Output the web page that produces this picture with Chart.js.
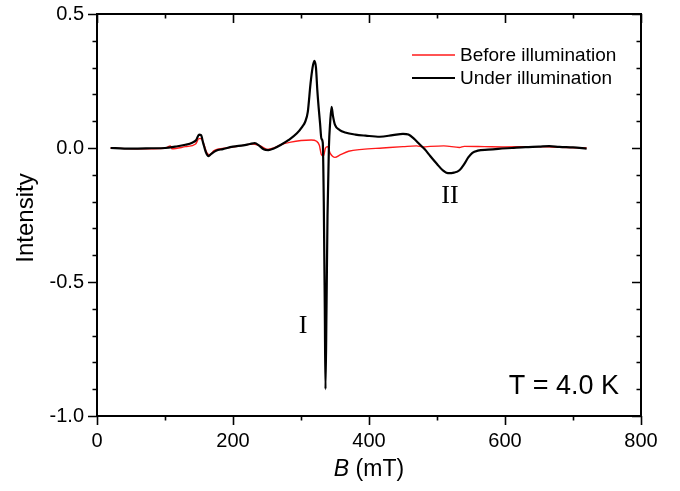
<!DOCTYPE html>
<html>
<head>
<meta charset="utf-8">
<script src="https://cdn.jsdelivr.net/npm/chart.js@4.4.1/dist/chart.umd.min.js"></script>
<style>
  html, body { margin: 0; padding: 0; background: #fff; }
  #wrap { width: 680px; height: 491px; position: relative; }
</style>
</head>
<body>
<div id="wrap"><canvas id="c" width="680" height="491"></canvas></div>
<script>
// ---- Data ----
const seriesNames = ["Under illumination", "Before illumination"];

const B_under = [20, 40, 60, 80, 100, 115, 130, 140, 146, 150, 153, 156, 160, 164, 168, 175, 185, 200, 215, 225, 232, 238, 245, 252, 260,
  270, 282, 294, 302, 306, 310, 314, 317, 319.6, 322, 324, 326, 328, 330, 332, 333.5, 335, 336, 337.5, 339, 341, 343, 345, 347, 350,
  357, 365, 380, 395, 416, 435, 450, 458, 466, 474, 482, 490, 500, 508, 516, 525, 533, 540, 546, 552, 560, 575, 590, 610, 630, 650, 665, 680, 700, 720];
const I_under = [0.000, -0.002, -0.002, -0.001, 0.000, 0.005, 0.012, 0.020, 0.030, 0.050, 0.048, 0.020, -0.015, -0.030, -0.022, -0.010, -0.004, 0.005, 0.010, 0.015, 0.018, 0.010, -0.005, -0.008, -0.002,
  0.011, 0.030, 0.055, 0.080, 0.097, 0.135, 0.240, 0.300, 0.325, 0.300, 0.216, 0.150, 0.093, 0.035, 0.020, -0.200, -0.600, -0.900, -0.600, -0.250, 0.000, 0.100, 0.154, 0.120, 0.086,
  0.067, 0.058, 0.050, 0.046, 0.042, 0.048, 0.053, 0.050, 0.035, 0.015, -0.005, -0.030, -0.060, -0.082, -0.094, -0.092, -0.083, -0.060, -0.035, -0.018, -0.010, -0.006, -0.003, 0.000, 0.003, 0.005, 0.007, 0.004, 0.002, -0.002];

const B_before = [20, 60, 100, 108, 110, 130, 145, 150, 153, 157, 162, 166, 172, 190, 210, 230, 240, 250, 260, 270, 285, 300, 315, 323, 327, 330, 333,
  336, 339, 343, 350, 358, 370, 390, 420, 450, 470, 480, 490, 510, 533, 540, 570, 600, 640, 680, 720];
const I_before = [0.000, -0.003, -0.001, 0.008, -0.003, 0.005, 0.015, 0.035, 0.035, 0.015, -0.020, -0.025, -0.010, 0.000, 0.008, 0.015, 0.008, -0.005, 0.000, 0.012, 0.022, 0.028, 0.030, 0.025, 0.010, -0.025, -0.030,
  0.000, 0.005, -0.020, -0.035, -0.025, -0.012, -0.005, 0.000, 0.005, 0.008, 0.004, 0.006, 0.008, 0.002, 0.006, 0.005, 0.004, 0.005, 0.003, 0.000];

const xMin = 0, xMax = 800, xMajor = 200, xMinor = 100;
const yMin = -1.0, yMax = 0.5, yMajor = 0.5, yMinor = 0.1;

const xTitleItalic = "B";
const xTitleRest = " (mT)";
const yTitle = "Intensity";
const tempLabel = "T = 4.0 K";
const peakLabels = [{ text: "I", x: 303, y: 326 }, { text: "II", x: 450, y: 196 }]; // text positions in px
// ---------------------------------------------------

function pairs(xs, ys) { return xs.map((v, i) => ({ x: v, y: ys[i] })); }

const frameAndText = {
  id: 'frameAndText',
  afterDraw(chart) {
    const { ctx, chartArea: a, scales: { x, y } } = chart;
    ctx.save();
    ctx.strokeStyle = '#000';
    ctx.lineWidth = 2;
    ctx.strokeRect(a.left, a.top, a.right - a.left, a.bottom - a.top);
    ctx.lineWidth = 1.6;
    ctx.beginPath();
    for (let v = xMin; v <= xMax + 1e-9; v += xMinor) {
      const px = Math.round(x.getPixelForValue(v)) + 0.5;
      const L = (Math.round(v) % xMajor === 0) ? 9 : 4.5;
      ctx.moveTo(px, a.bottom); ctx.lineTo(px, a.bottom + L);
      ctx.moveTo(px, a.top); ctx.lineTo(px, a.top + L);
    }
    const nY = Math.round((yMax - yMin) / yMinor);
    for (let k = 0; k <= nY; k++) {
      const v = yMin + k * yMinor;
      const py = Math.round(y.getPixelForValue(v)) + 0.5;
      const major = Math.abs(v / yMajor - Math.round(v / yMajor)) < 1e-6;
      const L = major ? 9 : 4.5;
      ctx.moveTo(a.left, py); ctx.lineTo(a.left - L, py);
      ctx.moveTo(a.right, py); ctx.lineTo(a.right - L, py);
    }
    ctx.stroke();

    ctx.fillStyle = '#000';
    // y title
    ctx.save();
    ctx.translate(26, 218);
    ctx.rotate(-Math.PI / 2);
    ctx.font = '24px "Liberation Sans", Arial, sans-serif';
    ctx.textAlign = 'center';
    ctx.textBaseline = 'middle';
    ctx.fillText(yTitle, 0, 0);
    ctx.restore();

    // x title
    const fx = '23px "Liberation Sans", Arial, sans-serif';
    const fxi = 'italic 23px "Liberation Sans", Arial, sans-serif';
    ctx.font = fxi;
    const w1 = ctx.measureText(xTitleItalic).width;
    ctx.font = fx;
    const w2 = ctx.measureText(xTitleRest).width;
    const cx = (a.left + a.right) / 2;
    let sx = cx - (w1 + w2) / 2;
    ctx.textAlign = 'left';
    ctx.textBaseline = 'alphabetic';
    ctx.font = fxi;
    ctx.fillText(xTitleItalic, sx, 476);
    ctx.font = fx;
    ctx.fillText(xTitleRest, sx + w1, 476);

    // legend
    const legend = [
      { label: chart.data.datasets[1].label, color: chart.data.datasets[1].borderColor, w: 1.5, y: 55 },
      { label: chart.data.datasets[0].label, color: chart.data.datasets[0].borderColor, w: 2, y: 78 }
    ];
    ctx.font = '19px "Liberation Sans", Arial, sans-serif';
    ctx.textBaseline = 'middle';
    legend.forEach(l => {
      ctx.strokeStyle = l.color; ctx.lineWidth = l.w;
      ctx.beginPath(); ctx.moveTo(412, l.y); ctx.lineTo(455, l.y); ctx.stroke();
      ctx.fillText(l.label, 460, l.y + 1);
    });

    // temperature
    ctx.font = '27px "Liberation Sans", Arial, sans-serif';
    ctx.textAlign = 'right';
    ctx.textBaseline = 'alphabetic';
    ctx.fillText(tempLabel, 619, 394);

    // peak labels
    ctx.font = '26px "Liberation Serif", "Times New Roman", serif';
    ctx.textAlign = 'center';
    ctx.textBaseline = 'middle';
    peakLabels.forEach(p => ctx.fillText(p.text, p.x, p.y));
    ctx.restore();
  }
};

new Chart(document.getElementById('c'), {
  type: 'line',
  data: {
    datasets: [
      { label: seriesNames[0], data: pairs(B_under, I_under), borderColor: '#000000', borderWidth: 2.2,
        pointRadius: 0, cubicInterpolationMode: 'monotone', order: 0, borderJoinStyle: 'round' },
      { label: seriesNames[1], data: pairs(B_before, I_before), borderColor: '#ff1a1a', borderWidth: 1.4,
        pointRadius: 0, cubicInterpolationMode: 'monotone', order: 1, borderJoinStyle: 'round' }
    ]
  },
  options: {
    responsive: false,
    animation: false,
    events: [],
    layout: { padding: { top: 14, right: 39, left: 0, bottom: 0 } },
    plugins: { legend: { display: false }, tooltip: { enabled: false } },
    scales: {
      x: {
        type: 'linear', min: xMin, max: xMax,
        grid: { display: false, drawTicks: false },
        border: { display: false },
        ticks: { stepSize: xMajor, padding: 13, color: '#000', maxRotation: 0,
                 font: { family: '"Liberation Sans", Arial, sans-serif', size: 20 } },
        afterFit(s) { s.height = 75; s.paddingLeft = 0; s.paddingRight = 0; }
      },
      y: {
        type: 'linear', min: yMin, max: yMax,
        grid: { display: false, drawTicks: false },
        border: { display: false },
        ticks: { stepSize: yMajor, padding: 13, color: '#000',
                 callback: v => v.toFixed(1),
                 font: { family: '"Liberation Sans", Arial, sans-serif', size: 20 } },
        afterFit(s) { s.width = 97; s.paddingTop = 0; s.paddingBottom = 0; }
      }
    }
  },
  plugins: [frameAndText]
});
</script>
</body>
</html>
